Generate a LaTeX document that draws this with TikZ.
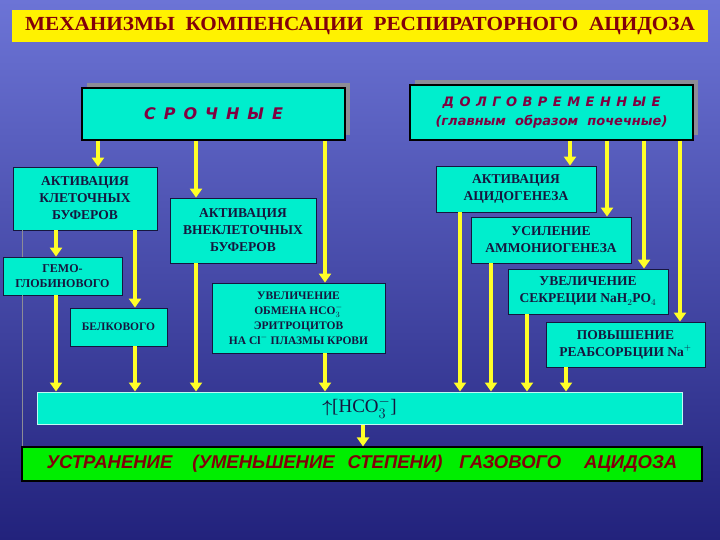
\documentclass[tikz,border=0pt]{standalone}
\usepackage{amsmath}
\usepackage{fontspec}
\setmainfont{Liberation Serif}
\newfontfamily\titlefont{Liberation Serif}[FakeStretch=1.06]
\newfontfamily\headfont{DejaVu Sans}[ItalicFont={DejaVu Sans Oblique}, BoldItalicFont={DejaVu Sans Bold Oblique}]
\newfontfamily\resfont{Liberation Sans}
\usetikzlibrary{arrows.meta, shadows}

\definecolor{seatop}{RGB}{108,116,214}
\definecolor{seamid}{RGB}{70,76,190}
\definecolor{seabot}{RGB}{34,34,124}
\definecolor{aqua}{RGB}{0,238,205}
\definecolor{ink}{RGB}{22,22,62}
\definecolor{lemon}{RGB}{255,255,40}
\definecolor{plum}{RGB}{128,0,64}
\definecolor{crimson}{RGB}{130,0,10}
\definecolor{lime}{RGB}{0,238,0}
\definecolor{shadowgray}{RGB}{140,140,150}

\tikzset{
  box/.style={draw=ink, line width=0.8pt, fill=aqua, text=ink, align=center,
    inner sep=2pt, font=\bfseries\fontsize{13.5}{17}\selectfont},
  head/.style={box, draw=black, line width=1.2pt, text=plum,
    drop shadow={shadow xshift=5pt, shadow yshift=5pt, fill=shadowgray, opacity=1}},
  flow/.style={draw=lemon, line width=3.5pt, -{Triangle[length=9pt, width=12pt]}},
}

\begin{document}
\begin{tikzpicture}[x=1pt, y=-1pt]
\def\gap{\hspace{0.5em}}
\def\sgap{\hspace{0.42em}}
\useasboundingbox (0,0) rectangle (720,540);
\shade[top color=seatop, middle color=seamid, bottom color=seabot] (0,0) rectangle (720,540);

% title
\node[fill=yellow, text=crimson, minimum width=696pt, minimum height=32pt,
  font=\titlefont\bfseries\fontsize{20}{22}\selectfont] (title) at (360,26)
  {МЕХАНИЗМЫ\ \ КОМПЕНСАЦИИ\ \ РЕСПИРАТОРНОГО\ \ АЦИДОЗА};

% headers
\node[head, minimum width=263pt, minimum height=52pt,
  font=\headfont\bfseries\itshape\fontsize{16}{19}\selectfont] (urgent) at (213.5,114)
  {С\gap Р\gap О\gap Ч\gap Н\gap Ы\gap Е};
\node[head, minimum width=283pt, minimum height=55pt,
  font=\headfont\bfseries\itshape\fontsize{13}{19}\selectfont] (long) at (551.5,112.5)
  {Д\sgap О\sgap Л\sgap Г\sgap О\sgap В\sgap Р\sgap Е\sgap М\sgap Е\sgap Н\sgap Н\sgap Ы\sgap Е\\
   (главным\ \ образом\ \ почечные)};

% urgent mechanisms
\node[box, minimum width=144pt, minimum height=63pt] (cell) at (85,198.5)
  {АКТИВАЦИЯ\\КЛЕТОЧНЫХ\\БУФЕРОВ};
\node[box, minimum width=146pt, minimum height=65pt] (extra) at (243,230.5)
  {АКТИВАЦИЯ\\ВНЕКЛЕТОЧНЫХ\\БУФЕРОВ};
\node[box, minimum width=119pt, minimum height=38pt,
  font=\bfseries\fontsize{12}{15}\selectfont] (hemo) at (62.5,276)
  {ГЕМО-\\ГЛОБИНОВОГО};
\node[box, minimum width=97pt, minimum height=38pt,
  font=\bfseries\fontsize{11.5}{15}\selectfont] (prot) at (118.5,327) {БЕЛКОВОГО};
\node[box, minimum width=173pt, minimum height=70pt,
  font=\bfseries\fontsize{11.5}{15}\selectfont] (exch) at (298.5,318)
  {УВЕЛИЧЕНИЕ\\ОБМЕНА HCO$_3^-$\\ЭРИТРОЦИТОВ\\НА Cl$^-$ ПЛАЗМЫ КРОВИ};

% long-term mechanisms
\node[box, minimum width=160pt, minimum height=46pt] (acid) at (516,189)
  {АКТИВАЦИЯ\\АЦИДОГЕНЕЗА};
\node[box, minimum width=160pt, minimum height=46pt] (ammo) at (551,240)
  {УСИЛЕНИЕ\\АММОНИОГЕНЕЗА};
\node[box, minimum width=160pt, minimum height=45pt] (phos) at (588,291.5)
  {УВЕЛИЧЕНИЕ\\СЕКРЕЦИИ NaH$_2$PO$_4$};
\node[box, minimum width=159pt, minimum height=45pt] (reab) at (625.5,344.5)
  {ПОВЫШЕНИЕ\\РЕАБСОРБЦИИ Na$^+$};

% result
\node[box, draw=white!75!aqua, line width=1pt, minimum width=645pt, minimum height=32pt,
  font=\fontsize{19}{20}\selectfont] (bar) at (359.5,408)
  {$\boldsymbol\uparrow$[HCO$_3^-$]};
\node[box, draw=black, line width=1.2pt, fill=lime, text=crimson, minimum width=680pt,
  minimum height=34pt, font=\resfont\bfseries\itshape\fontsize{18.5}{20}\selectfont] (result) at (362,464)
  {УСТРАНЕНИЕ\hspace{20pt}(УМЕНЬШЕНИЕ\hspace{13pt}СТЕПЕНИ)\hspace{17pt}ГАЗОВОГО\hspace{23pt}АЦИДОЗА};

% thin line on the left
\draw[shadowgray, line width=1pt] (22,0 |- cell.south) -- (22,0 |- hemo.north);
\draw[shadowgray, line width=1pt] (22,0 |- hemo.south) -- (22,0 |- result.north);

% arrows
\foreach \x/\a/\b in {98/urgent/cell, 196/urgent/extra, 325/urgent/exch,
    56/cell/hemo, 135/cell/prot, 56/hemo/bar, 135/prot/bar, 196/extra/bar, 325/exch/bar,
    570/long/acid, 607/long/ammo, 644/long/phos, 680/long/reab,
    460/acid/bar, 491/ammo/bar, 527/phos/bar, 566/reab/bar, 363/bar/result}
  \draw[flow] (\x,0 |- \a.south) -- (\x,0 |- \b.north);
\end{tikzpicture}
\end{document}
